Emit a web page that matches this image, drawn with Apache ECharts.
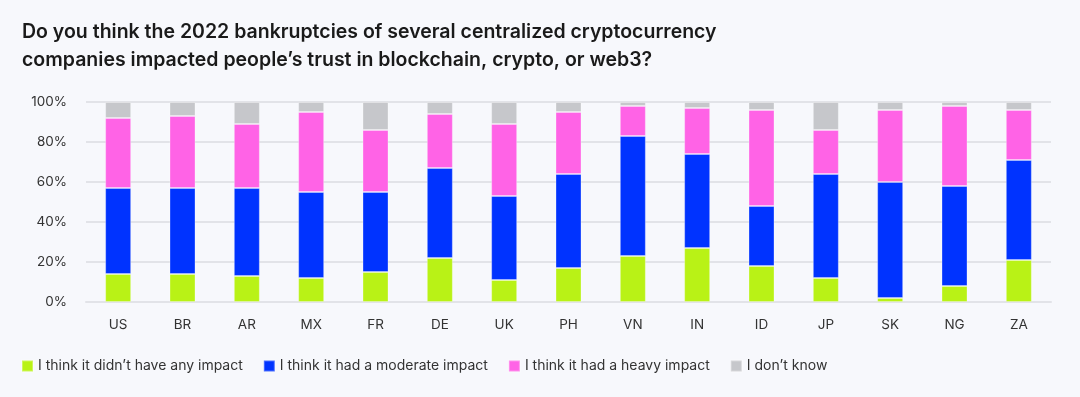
<!DOCTYPE html>
<html>
<head>
<meta charset="utf-8">
<script src="https://cdn.jsdelivr.net/npm/echarts@6/dist/echarts.min.js"></script>
<style>
html,body{margin:0;padding:0;background:#f7f8fc;}
#chart{width:1080px;height:397px;}
</style>
</head>
<body>
<div id="chart"></div>
<script>
const categories = ['US','BR','AR','MX','FR','DE','UK','PH','VN','IN','ID','JP','SK','NG','ZA'];
const noImpact =       [14, 14, 13, 12, 15, 22, 11, 17, 23, 27, 18, 12,  2,  8, 21];
const moderateImpact = [43, 43, 44, 43, 40, 45, 42, 47, 60, 47, 30, 52, 58, 50, 50];
const heavyImpact =    [35, 36, 32, 40, 31, 27, 36, 31, 15, 23, 48, 22, 36, 40, 25];
const dontKnow =       [ 8,  7, 11,  5, 14,  6, 11,  5,  2,  3,  4, 14,  4,  2,  4];
const seriesNames = ["I think it didn\u2019t have any impact", 'I think it had a moderate impact', 'I think it had a heavy impact', 'I don\u2019t know'];
const colors = ['#b9f216', '#0033ff', '#ff63e6', '#c6c7cb'];

const chart = echarts.init(document.getElementById('chart'));
const font = 'Inter, "Noto Sans", sans-serif';
const mk = (name, data, color) => ({
  name, type: 'bar', stack: 'total', data, barWidth: 26,
  itemStyle: { color, borderColor: 'rgba(255,255,255,0.3)', borderWidth: 1 }
});
chart.setOption({
  backgroundColor: '#f7f8fc',
  color: colors,
  title: {
    text: 'Do you think the 2022 bankruptcies of several centralized cryptocurrency\ncompanies impacted people\u2019s trust in blockchain, crypto, or web3?',
    left: 17, top: 13,
    textStyle: { fontFamily: font, fontSize: 19.5, fontWeight: 600, color: '#1a1a1a', lineHeight: 28 }
  },
  legend: {
    left: 16, top: 354, icon: 'rect', itemWidth: 11, itemHeight: 11, itemGap: 20,
    textStyle: { fontFamily: font, fontSize: 14, color: '#333' },
    data: seriesNames
  },
  grid: { left: 86, right: 29, top: 102, bottom: 95 },
  xAxis: {
    type: 'category', data: categories,
    axisLine: { lineStyle: { color: '#e2e3e8', width: 2 } },
    axisTick: { show: false },
    axisLabel: { fontFamily: font, fontSize: 13.5, color: '#333', margin: 16 }
  },
  yAxis: {
    type: 'value', min: 0, max: 100, interval: 20,
    axisLine: { show: false }, axisTick: { show: false },
    splitLine: { lineStyle: { color: '#e2e3e8', width: 2 } },
    axisLabel: { formatter: '{value}%', fontFamily: font, fontSize: 13.5, color: '#333', margin: 19 }
  },
  series: [
    mk(seriesNames[0], noImpact, colors[0]),
    mk(seriesNames[1], moderateImpact, colors[1]),
    mk(seriesNames[2], heavyImpact, colors[2]),
    mk(seriesNames[3], dontKnow, colors[3])
  ]
});
</script>
</body>
</html>
